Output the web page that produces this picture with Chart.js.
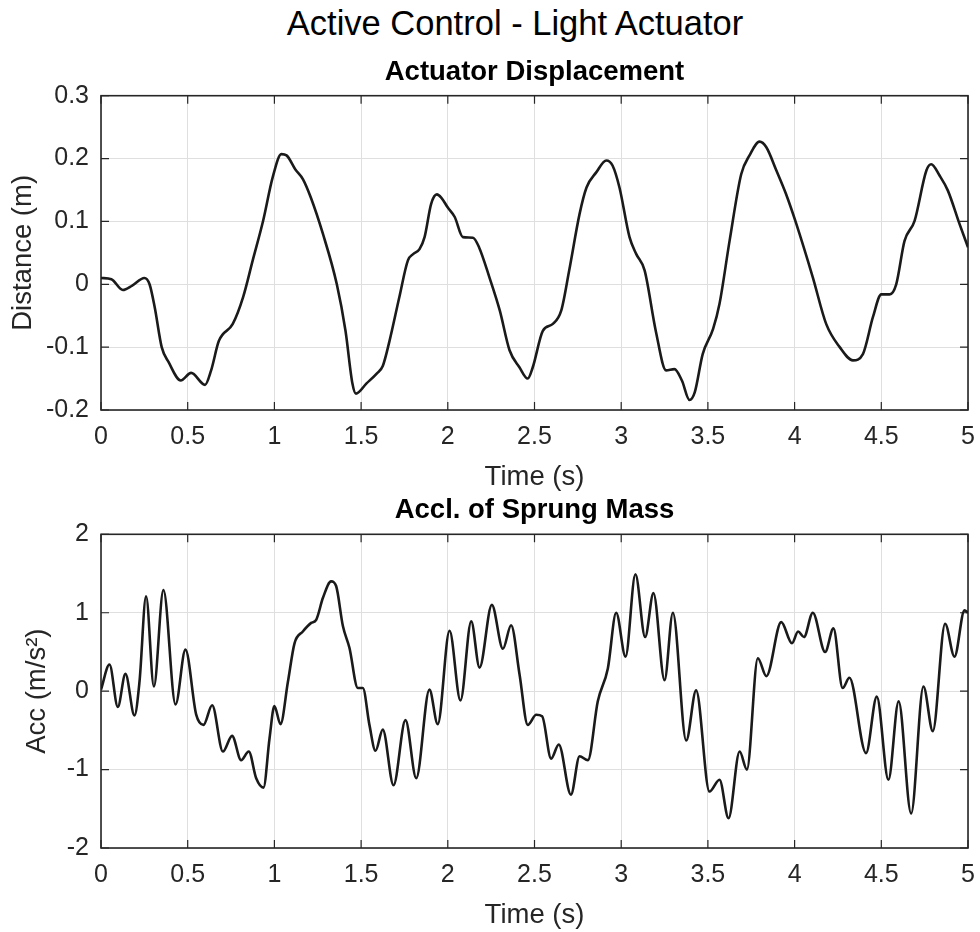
<!DOCTYPE html>
<html>
<head>
<meta charset="utf-8">
<title>Active Control - Light Actuator</title>
<script src="https://cdn.jsdelivr.net/npm/chart.js@4.4.1/dist/chart.umd.min.js"></script>
<style>
    body {
        margin: 0;
        width: 980px;
        height: 932px;
        overflow: hidden;
        background: #fff;
        position: relative;
        font-family: "Liberation Sans", Arial, sans-serif;
    }
    #fig-title {
        position: absolute;
        left: 0;
        top: 3px;
        width: 1030px;
        line-height: 40px;
        text-align: center;
        font-size: 34.5px;
        color: #000;
    }
    .panel {
        position: absolute;
        left: 0;
    }
</style>
</head>
<body>
<div id="fig-title">Active Control - Light Actuator</div>
<canvas id="disp-chart" class="panel" width="980" height="444" style="top:50px"></canvas>
<canvas id="acc-chart" class="panel" width="980" height="447" style="top:485px"></canvas>

<script>
// Time axis (s) shared by both panels
const timeMin = 0;
const timeMax = 5;
const timeStep = 0.5;

// Actuator displacement (m)
const dispTime = [0, 0.06, 0.126, 0.18, 0.25, 0.28, 0.31, 0.35, 0.39, 0.46, 0.52, 0.60, 0.635, 0.68, 0.76, 0.82, 0.875, 0.935, 0.99, 1.04,
    1.07, 1.12, 1.165, 1.21, 1.28, 1.36, 1.41, 1.45, 1.47, 1.53, 1.59, 1.625, 1.664, 1.72, 1.77, 1.80, 1.837, 1.866, 1.904, 1.937,
    1.962, 2.0, 2.04, 2.087, 2.145, 2.18, 2.24, 2.30, 2.356, 2.413, 2.461, 2.49, 2.548, 2.606, 2.654, 2.70, 2.76, 2.80, 2.856, 2.914,
    2.95, 2.99, 3.048, 3.087, 3.135, 3.20, 3.259, 3.307, 3.35, 3.394, 3.424, 3.47, 3.53, 3.567, 3.625, 3.692, 3.74, 3.798, 3.837, 3.895,
    3.95, 4.01, 4.105, 4.182, 4.26, 4.336, 4.394, 4.452, 4.5, 4.548, 4.586, 4.634, 4.692, 4.76, 4.788, 4.836, 4.884, 4.951, 5.0];
const dispValues = [0.01, 0.008, -0.009, -0.002, 0.01, 0.0, -0.037, -0.10, -0.124, -0.153, -0.141, -0.16, -0.137, -0.09, -0.063, -0.02, 0.038, 0.101, 0.17, 0.207,
    0.205, 0.183, 0.167, 0.138, 0.08, 0.0, -0.074, -0.158, -0.174, -0.158, -0.142, -0.13, -0.09, -0.021, 0.038, 0.048, 0.056, 0.075, 0.128, 0.143,
    0.138, 0.122, 0.107, 0.075, 0.074, 0.059, 0.011, -0.042, -0.105, -0.132, -0.150, -0.132, -0.074, -0.063, -0.042, 0.022, 0.112, 0.154, 0.178, 0.197,
    0.189, 0.154, 0.075, 0.048, 0.022, -0.075, -0.137, -0.135, -0.153, -0.184, -0.172, -0.111, -0.071, -0.031, 0.069, 0.175, 0.205, 0.227, 0.218, 0.181,
    0.144, 0.096, 0.011, -0.063, -0.1, -0.121, -0.111, -0.052, -0.016, -0.016, 0.0, 0.069, 0.101, 0.181, 0.191, 0.173, 0.149, 0.096, 0.059];

// Acceleration of sprung mass (m/s^2)
const accTime = [0, 0.049, 0.097, 0.141, 0.193, 0.222, 0.26, 0.305, 0.36, 0.43, 0.487, 0.549, 0.591, 0.641, 0.703, 0.756, 0.808, 0.852, 0.895, 0.937,
    0.972, 1.0, 1.035, 1.078, 1.116, 1.164, 1.212, 1.241, 1.28, 1.327, 1.356, 1.395, 1.433, 1.481, 1.51, 1.548, 1.583, 1.625, 1.687, 1.756,
    1.818, 1.894, 1.942, 2.01, 2.073, 2.135, 2.183, 2.254, 2.318, 2.365, 2.414, 2.461, 2.51, 2.544, 2.596, 2.64, 2.71, 2.76, 2.808, 2.865,
    2.923, 2.971, 3.025, 3.082, 3.138, 3.186, 3.25, 3.298, 3.375, 3.432, 3.509, 3.567, 3.619, 3.683, 3.725, 3.788, 3.837, 3.923, 3.985, 4.02,
    4.054, 4.105, 4.176, 4.224, 4.277, 4.316, 4.412, 4.474, 4.541, 4.6, 4.672, 4.743, 4.797, 4.868, 4.922, 4.98, 5.0];
const accValues = [0.02, 0.34, -0.2, 0.22, -0.31, 0.12, 1.21, 0.06, 1.29, -0.17, 0.53, -0.30, -0.43, -0.18, -0.77, -0.57, -0.88, -0.77, -1.11, -1.23,
    -0.6, -0.19, -0.42, 0.12, 0.61, 0.76, 0.87, 0.91, 1.19, 1.40, 1.34, 0.83, 0.55, 0.04, 0.04, -0.43, -0.76, -0.49, -1.20, -0.37,
    -1.11, 0.02, -0.42, 0.77, -0.12, 0.89, 0.30, 1.10, 0.54, 0.84, 0.21, -0.43, -0.30, -0.32, -0.86, -0.68, -1.32, -0.83, -0.88, -0.13,
    0.29, 1.00, 0.44, 1.49, 0.69, 1.25, 0.14, 1.00, -0.63, 0.01, -1.28, -1.13, -1.62, -0.77, -1.0, 0.42, 0.19, 0.88, 0.61, 0.76,
    0.69, 1.00, 0.50, 0.80, 0.04, 0.17, -0.79, -0.07, -1.13, -0.13, -1.56, 0.06, -0.51, 0.86, 0.44, 1.03, 1.0];

const AXIS_COLOR = '#262626';
const GRID_COLOR = '#dfdfdf';
const LINE_COLOR = '#1a1a1a';
const FONT = '"Liberation Sans", Arial, sans-serif';
const TICK_LEN = 8;

// MATLAB style box with inward tick marks
const boxPlugin = {
    id: 'matlabBox',
    beforeDatasetsDraw(chart) {
        const { ctx, chartArea: a, scales: { x, y } } = chart;
        ctx.save();
        ctx.strokeStyle = AXIS_COLOR;
        ctx.lineWidth = 1.2;
        ctx.beginPath();
        x.ticks.forEach(t => {
            const px = x.getPixelForValue(t.value);
            ctx.moveTo(px, a.bottom);
            ctx.lineTo(px, a.bottom - TICK_LEN);
            ctx.moveTo(px, a.top);
            ctx.lineTo(px, a.top + TICK_LEN);
        });
        y.ticks.forEach(t => {
            const py = y.getPixelForValue(t.value);
            ctx.moveTo(a.left, py);
            ctx.lineTo(a.left + TICK_LEN, py);
            ctx.moveTo(a.right, py);
            ctx.lineTo(a.right - TICK_LEN, py);
        });
        ctx.stroke();
        ctx.lineWidth = 1.6;
        ctx.strokeRect(a.left, a.top, a.right - a.left, a.bottom - a.top);
        ctx.restore();
    }
};

function fmt(v) {
    return String(+v.toFixed(2));
}

function renderPanel(canvasId, cfg) {
    const ctx = document.getElementById(canvasId).getContext('2d');
    const points = cfg.times.map((t, i) => ({ x: t, y: cfg.values[i] }));

    return new Chart(ctx, {
        type: 'line',
        data: {
            datasets: [{
                data: points,
                borderColor: LINE_COLOR,
                borderWidth: 2.6,
                pointRadius: 0,
                fill: false,
                cubicInterpolationMode: 'monotone'
            }]
        },
        options: {
            responsive: false,
            animation: false,
            layout: { padding: { left: 0, right: 12, top: 0, bottom: 0 } },
            plugins: {
                legend: { display: false },
                tooltip: { enabled: false },
                title: {
                    display: true,
                    text: cfg.title,
                    fullSize: false,
                    color: '#000',
                    font: { family: FONT, size: 27.5, weight: 'bold' },
                    padding: cfg.titlePad
                }
            },
            scales: {
                x: {
                    type: 'linear',
                    min: timeMin,
                    max: timeMax,
                    afterFit: s => {
                        s.height = 84;
                        s.paddingLeft = 0;
                        s.paddingRight = 0;
                    },
                    ticks: {
                        stepSize: timeStep,
                        padding: 12,
                        color: AXIS_COLOR,
                        font: { family: FONT, size: 25 },
                        maxRotation: 0,
                        callback: fmt
                    },
                    grid: { color: GRID_COLOR, drawTicks: false },
                    border: { display: false },
                    title: {
                        display: true,
                        text: 'Time (s)',
                        color: AXIS_COLOR,
                        font: { family: FONT, size: 27.5 },
                        padding: { top: 0, bottom: 0.5 }
                    }
                },
                y: {
                    min: cfg.yMin,
                    max: cfg.yMax,
                    afterFit: s => { s.width = 101; },
                    ticks: {
                        stepSize: cfg.yStep,
                        padding: 12,
                        color: AXIS_COLOR,
                        font: { family: FONT, size: 25 },
                        callback: fmt
                    },
                    grid: { color: GRID_COLOR, drawTicks: false },
                    border: { display: false },
                    title: {
                        display: true,
                        text: cfg.yLabel,
                        color: AXIS_COLOR,
                        font: { family: FONT, size: 27.5 },
                        padding: { top: cfg.yTitlePad, bottom: 0 }
                    }
                }
            }
        },
        plugins: [boxPlugin]
    });
}

renderPanel('disp-chart', {
    title: 'Actuator Displacement',
    titlePad: { top: 5.5, bottom: 7.2 },
    yLabel: 'Distance (m)',
    yTitlePad: 7,
    yMin: -0.2,
    yMax: 0.3,
    yStep: 0.1,
    times: dispTime,
    values: dispValues
});

renderPanel('acc-chart', {
    title: 'Accl. of Sprung Mass',
    titlePad: { top: 8.5, bottom: 7.8 },
    yLabel: 'Acc (m/s²)',
    yTitlePad: 20.5,
    yMin: -2,
    yMax: 2,
    yStep: 1,
    times: accTime,
    values: accValues
});
</script>
</body>
</html>
